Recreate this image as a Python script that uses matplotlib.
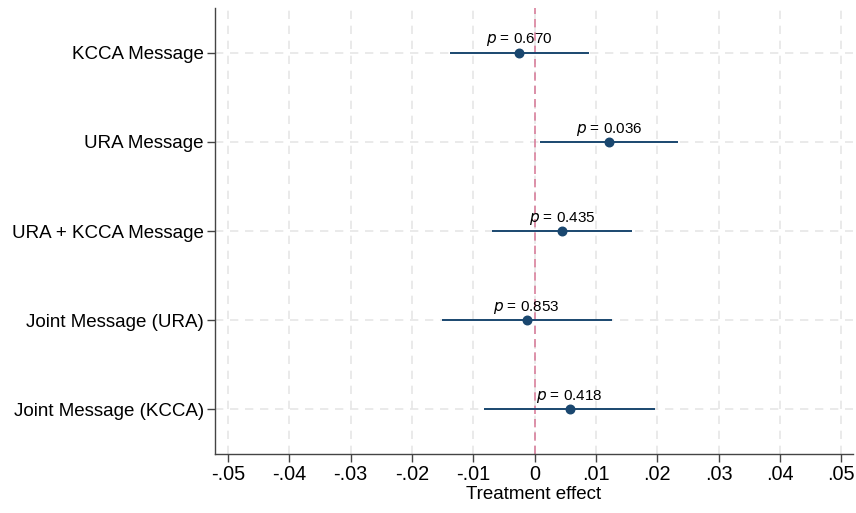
import matplotlib
matplotlib.use("Agg")
import matplotlib.pyplot as plt

# estimates
LABELS = [
    "KCCA Message",
    "URA Message",
    "URA + KCCA Message",
    "Joint Message (URA)",
    "Joint Message (KCCA)",
]
EFFECT = [-0.0025, 0.0122, 0.0045, -0.0013, 0.0057]
CI_LO = [-0.0138, 0.0009, -0.0069, -0.0151, -0.0082]
CI_HI = [0.0089, 0.0233, 0.0158, 0.0126, 0.0197]
P_VALUES = ["0.670", "0.036", "0.435", "0.853", "0.418"]
XTICKS = [-0.05, -0.04, -0.03, -0.02, -0.01, 0.0, 0.01, 0.02, 0.03, 0.04, 0.05]
XTICK_LABELS = ["-.05", "-.04", "-.03", "-.02", "-.01", "0", ".01", ".02", ".03", ".04", ".05"]

NAVY = "#1a476f"
ZERO_COLOR = "#d9809c"
GRID_COLOR = "#e6e6e6"

plt.rcParams["font.family"] = ["Liberation Sans", "DejaVu Sans"]

fig = plt.figure(figsize=(8.56, 5.13), dpi=100)
ax = fig.add_axes([0.2512, 0.115, 0.9965 - 0.2512, 0.9844 - 0.115])

y = list(range(1, len(LABELS) + 1))

for xt in XTICKS:
    ax.axvline(xt, color=GRID_COLOR, lw=1.2, ls=(0, (5, 4)), zorder=0)
for yy in y:
    ax.axhline(yy, color=GRID_COLOR, lw=1.2, ls=(0, (5, 4)), zorder=0)

ax.axvline(0, color=ZERO_COLOR, lw=1.2, ls=(0, (5, 3)), zorder=1)

ax.hlines(y, CI_LO, CI_HI, color=NAVY, lw=1.4, zorder=2)
ax.scatter(EFFECT, y, s=38, color=NAVY, zorder=3)

for xi, yi, p in zip(EFFECT, y, P_VALUES):
    ax.annotate(f"$p$ = {p}", (xi, yi), xytext=(0, 3), textcoords="offset points",
                ha="center", va="bottom", fontsize=11)

ax.set_xlim(-0.0521, 0.0519)
ax.set_ylim(5.5, 0.5)
ax.set_yticks(y)
ax.set_yticklabels(LABELS, fontsize=13.5)
ax.set_xticks(XTICKS)
ax.set_xticklabels(XTICK_LABELS, fontsize=14.3)
ax.set_xlabel("Treatment effect", fontsize=13.5, labelpad=1)

ax.spines["top"].set_visible(False)
ax.spines["right"].set_visible(False)
for s in ("left", "bottom"):
    ax.spines[s].set_color("#444444")
    ax.spines[s].set_linewidth(1.0)
ax.tick_params(axis="x", length=6, width=1.0, color="#444444", pad=2)
ax.tick_params(axis="y", length=6, width=1.0, color="#444444", pad=2)

fig.savefig("out.png", dpi=100)
